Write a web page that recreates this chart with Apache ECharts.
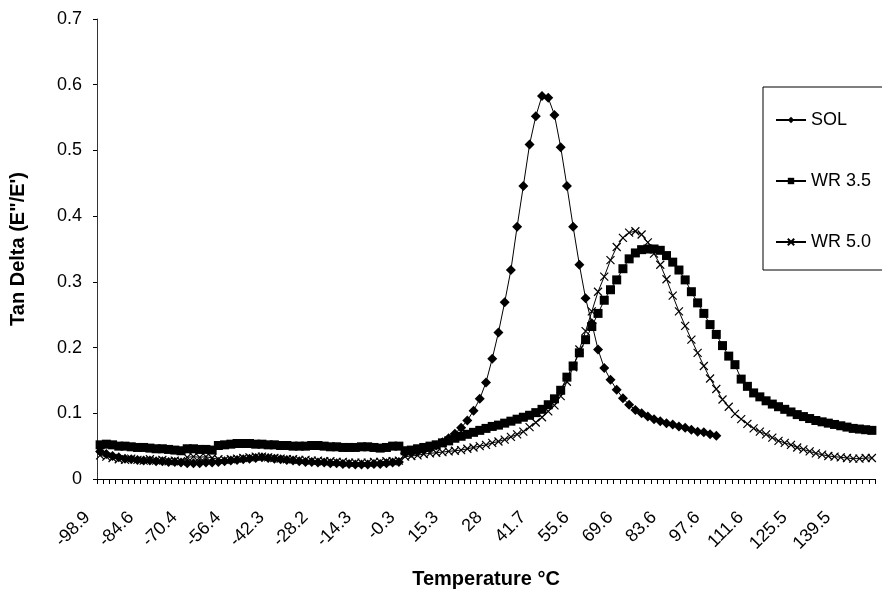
<!DOCTYPE html>
<html>
<head>
<meta charset="utf-8">
<script src="https://cdn.jsdelivr.net/npm/echarts@6/dist/echarts.min.js"></script>
<style>
html,body{margin:0;padding:0;background:#fff;}
#chart{width:882px;height:595px;}
</style>
</head>
<body>
<div id="chart"></div>
<script>
// Temperature categories (°C)
const categories = [
  '-98.9','-96.8','-94.7','-92.7','-90.6','-88.6','-86.6',
  '-84.6','-82.5','-80.5','-78.5','-76.4','-74.4','-72.4',
  '-70.4','-68.4','-66.4','-64.4','-62.4','-60.4','-58.4',
  '-56.4','-54.4','-52.4','-50.3','-48.3','-46.3','-44.3',
  '-42.3','-40.3','-38.3','-36.3','-34.2','-32.2','-30.2',
  '-28.2','-26.2','-24.2','-22.2','-20.2','-18.3','-16.3',
  '-14.3','-12.3','-10.3','-8.3','-6.3','-4.3','-2.3',
  '-0.3','2.0','4.2','6.5','8.7','10.9','13.1',
  '15.3','17.1','18.9','20.8','22.6','24.4','26.2',
  '28','30.0','31.9','33.9','35.8','37.8','39.7',
  '41.7','43.7','45.7','47.6','49.6','51.6','53.6',
  '55.6','57.6','59.6','61.6','63.6','65.6','67.6',
  '69.6','71.6','73.6','75.6','77.6','79.6','81.6',
  '83.6','85.6','87.6','89.6','91.6','93.6','95.6',
  '97.6','99.6','101.6','103.6','105.6','107.6','109.6',
  '111.6','113.6','115.6','117.5','119.5','121.5','123.5',
  '125.5','127.5','129.5','131.5','133.5','135.5','137.5',
  '139.5','141.5','143.5','145.5','147.5','149.5'
];

const tickLabels = ['-98.9','-84.6','-70.4','-56.4','-42.3','-28.2','-14.3','-0.3','15.3','28','41.7','55.6','69.6','83.6','97.6','111.6','125.5','139.5'];
const yTicks = [0, 0.1, 0.2, 0.3, 0.4, 0.5, 0.6, 0.7];

const seriesNames = ['SOL', 'WR 3.5', 'WR 5.0'];

const sol = [
  0.042,0.038,0.035,0.033,0.031,0.030,0.029,0.028,0.028,0.027,
  0.027,0.026,0.026,0.025,0.024,0.024,0.024,0.025,0.025,0.026,
  0.027,0.028,0.029,0.030,0.031,0.032,0.033,0.032,0.031,0.030,
  0.029,0.028,0.027,0.026,0.026,0.025,0.025,0.024,0.024,0.023,
  0.023,0.022,0.022,0.022,0.023,0.023,0.024,0.025,0.026,0.039,
  0.040,0.042,0.044,0.047,0.051,0.056,0.062,0.069,0.078,0.089,
  0.104,0.122,0.147,0.183,0.223,0.269,0.318,0.384,0.446,0.509,
  0.552,0.583,0.580,0.554,0.505,0.446,0.384,0.326,0.275,0.237,
  0.197,0.169,0.151,0.136,0.123,0.113,0.105,0.100,0.095,0.091,
  0.088,0.085,0.083,0.080,0.078,0.075,0.072,0.071,0.068,0.066
];

const wr35 = [
  0.052,0.053,0.052,0.050,0.050,0.049,0.048,0.048,0.047,0.046,
  0.046,0.045,0.044,0.043,0.046,0.046,0.045,0.045,0.044,0.051,
  0.052,0.053,0.054,0.054,0.054,0.053,0.053,0.052,0.052,0.051,
  0.051,0.050,0.050,0.050,0.051,0.051,0.050,0.049,0.049,0.048,
  0.048,0.048,0.049,0.049,0.048,0.047,0.048,0.050,0.050,0.043,
  0.044,0.046,0.048,0.050,0.052,0.055,0.058,0.062,0.065,0.068,
  0.071,0.074,0.077,0.080,0.082,0.085,0.088,0.091,0.094,0.097,
  0.101,0.106,0.113,0.122,0.135,0.155,0.172,0.192,0.212,0.232,
  0.252,0.272,0.288,0.303,0.320,0.335,0.344,0.349,0.350,0.350,
  0.348,0.340,0.330,0.318,0.303,0.285,0.268,0.252,0.235,0.220,
  0.203,0.187,0.174,0.152,0.141,0.131,0.125,0.119,0.114,0.110,
  0.106,0.102,0.098,0.095,0.092,0.089,0.087,0.085,0.083,0.081,
  0.079,0.077,0.076,0.075,0.074
];

const wr50 = [
  0.036,0.034,0.032,0.030,0.029,0.031,0.029,0.028,0.030,0.028,
  0.029,0.027,0.028,0.027,0.033,0.034,0.033,0.034,0.032,0.030,
  0.029,0.030,0.031,0.032,0.033,0.034,0.034,0.033,0.032,0.031,
  0.030,0.030,0.029,0.029,0.028,0.028,0.027,0.027,0.026,0.026,
  0.025,0.025,0.025,0.025,0.026,0.026,0.027,0.027,0.028,0.034,
  0.035,0.036,0.038,0.039,0.040,0.041,0.042,0.043,0.044,0.046,
  0.048,0.050,0.052,0.055,0.057,0.060,0.064,0.068,0.072,0.079,
  0.086,0.094,0.103,0.112,0.126,0.148,0.170,0.197,0.225,0.255,
  0.285,0.308,0.333,0.353,0.367,0.375,0.377,0.372,0.360,0.343,
  0.326,0.304,0.279,0.255,0.233,0.212,0.192,0.172,0.153,0.137,
  0.121,0.110,0.099,0.091,0.084,0.077,0.072,0.068,0.063,0.058,
  0.055,0.052,0.048,0.045,0.042,0.039,0.037,0.035,0.034,0.033,
  0.032,0.031,0.031,0.032,0.032
];

const FONT = '"Liberation Sans", Arial, sans-serif';
const crossPath = 'path://M0,0L10,10M0,10L10,0';

const chart = echarts.init(document.getElementById('chart'), null, {renderer: 'canvas'});

function lineSeries(name, data, symbol, size, extra) {
  return Object.assign({
    name: name,
    type: 'line',
    data: data,
    symbol: symbol,
    symbolSize: size,
    showSymbol: true,
    showAllSymbol: true,
    animation: false,
    lineStyle: {color: '#000', width: 1},
    itemStyle: {color: '#000', borderColor: '#000', borderWidth: 0},
    emphasis: {disabled: true}
  }, extra || {});
}

chart.setOption({
  backgroundColor: '#fff',
  animation: false,
  grid: {left: 97, right: 7, top: 19, bottom: 116, containLabel: false},
  legend: {
    orient: 'vertical',
    left: 763,
    top: 87,
    padding: [23, 30, 18, 12],
    itemGap: 41,
    itemWidth: 30,
    itemHeight: 8,
    borderColor: '#000',
    borderWidth: 1,
    borderRadius: 0,
    textStyle: {fontFamily: FONT, fontSize: 18, lineHeight: 20, color: '#000'},
    data: seriesNames
  },
  xAxis: {
    type: 'category',
    data: categories,
    boundaryGap: true,
    name: 'Temperature °C',
    nameLocation: 'middle',
    nameGap: 90,
    nameTextStyle: {fontFamily: FONT, fontSize: 20, fontWeight: 'bold', color: '#000'},
    axisLine: {lineStyle: {color: '#000', width: 1}},
    axisTick: {show: true, interval: 0, length: 5, inside: false, lineStyle: {color: '#000'}},
    axisLabel: {
      interval: 0,
      rotate: 45,
      margin: 23,
      padding: [0, 18, 0, 0],
      fontFamily: FONT,
      fontSize: 18,
      color: '#000',
      formatter: function (v, i) { return i % 7 === 0 ? tickLabels[i / 7] : ''; }
    },
    splitLine: {show: false}
  },
  yAxis: {
    type: 'value',
    min: yTicks[0],
    max: yTicks[yTicks.length - 1],
    interval: 0.1,
    name: 'Tan Delta (E"/E\')',
    nameLocation: 'middle',
    nameGap: 69,
    nameTextStyle: {fontFamily: FONT, fontSize: 20, fontWeight: 'bold', color: '#000'},
    axisLine: {show: true, lineStyle: {color: '#333', width: 1}},
    axisTick: {show: true, length: 4, lineStyle: {color: '#000'}},
    axisLabel: {margin: 15, fontFamily: FONT, fontSize: 18, color: '#000',
      formatter: function (v) { return String(Math.round(v * 10) / 10); }},
    splitLine: {show: false}
  },
  series: [
    lineSeries(seriesNames[0], sol, 'diamond', 10),
    lineSeries(seriesNames[1], wr35, 'rect', 9),
    lineSeries(seriesNames[2], wr50, crossPath, 8, {
      itemStyle: {color: '#000', borderColor: '#000', borderWidth: 1.2}
    })
  ]
});
</script>
</body>
</html>
